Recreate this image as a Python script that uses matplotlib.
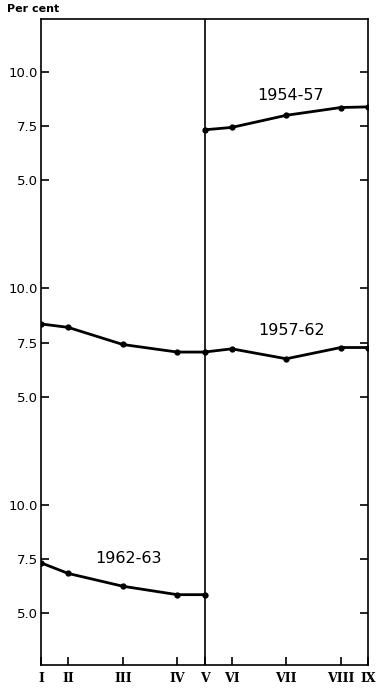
import matplotlib
matplotlib.use("Agg")
import matplotlib.pyplot as plt

# quarters along the bottom, and where each sits on the time axis
quarters = ["I", "II", "III", "IV", "V", "VI", "VII", "VIII", "IX"]
quarter_pos = [0, 1, 3, 5, 6, 7, 9, 11, 12]

# per cent
s_1954_57 = [7.33, 7.44, 8.0, 8.36, 8.39]          # V..IX
s_1957_62 = [8.36, 8.2, 7.41, 7.06, 7.06, 7.21, 6.75, 7.27, 7.27]   # I..IX
s_1962_63 = [7.32, 6.83, 6.24, 5.85, 5.85]          # I..V

ytick_vals = [5.0, 7.5, 10.0]
ytick_text = ["5.0", "7.5", "10.0"]

fig = plt.figure(figsize=(3.77, 6.88), dpi=100)
ax = fig.add_axes([41 / 377, 23 / 688, 327 / 377, 646 / 688])

# panels are stacked 10 units apart on one axis
panel_shift = {"top": 20, "mid": 10, "bot": 0}

kw = dict(color="black", lw=2.0, marker="o", ms=3.5, solid_joinstyle="round")
ax.plot(quarter_pos[4:], [v + panel_shift["top"] for v in s_1954_57], **kw)
ax.plot(quarter_pos, [v + panel_shift["mid"] for v in s_1957_62], **kw)
ax.plot(quarter_pos[:5], [v + panel_shift["bot"] for v in s_1962_63], **kw)

ax.axvline(quarter_pos[4], color="black", lw=1.2)

ax.text(9.15, 8.92 + panel_shift["top"], "1954-57", fontsize=11.5, ha="center", va="center")
ax.text(9.2, 8.05 + panel_shift["mid"], "1957-62", fontsize=11.5, ha="center", va="center")
ax.text(3.2, 7.5 + panel_shift["bot"], "1962-63", fontsize=11.5, ha="center", va="center")

ax.set_xlim(quarter_pos[0], quarter_pos[-1])
ax.set_ylim(2.6, 32.45)

yt, yl = [], []
for off in (20, 10, 0):
    for v, t in zip(ytick_vals, ytick_text):
        yt.append(v + off)
        yl.append(t)
ax.set_yticks(yt)
ax.set_yticklabels(yl, fontsize=9.5)
ax.tick_params(axis="y", direction="in", length=6, width=1.2, right=True, pad=2)

ax.set_xticks(quarter_pos)
ax.set_xticklabels(quarters, family="DejaVu Serif", fontsize=9, fontweight="bold")
ax.tick_params(axis="x", direction="in", length=6, width=1.2, pad=5)

for s in ax.spines.values():
    s.set_linewidth(1.2)

fig.text(7 / 377, 1 - 9 / 688, "Per cent", fontsize=8, fontweight="bold", va="center")

fig.savefig("out.png", dpi=100)
